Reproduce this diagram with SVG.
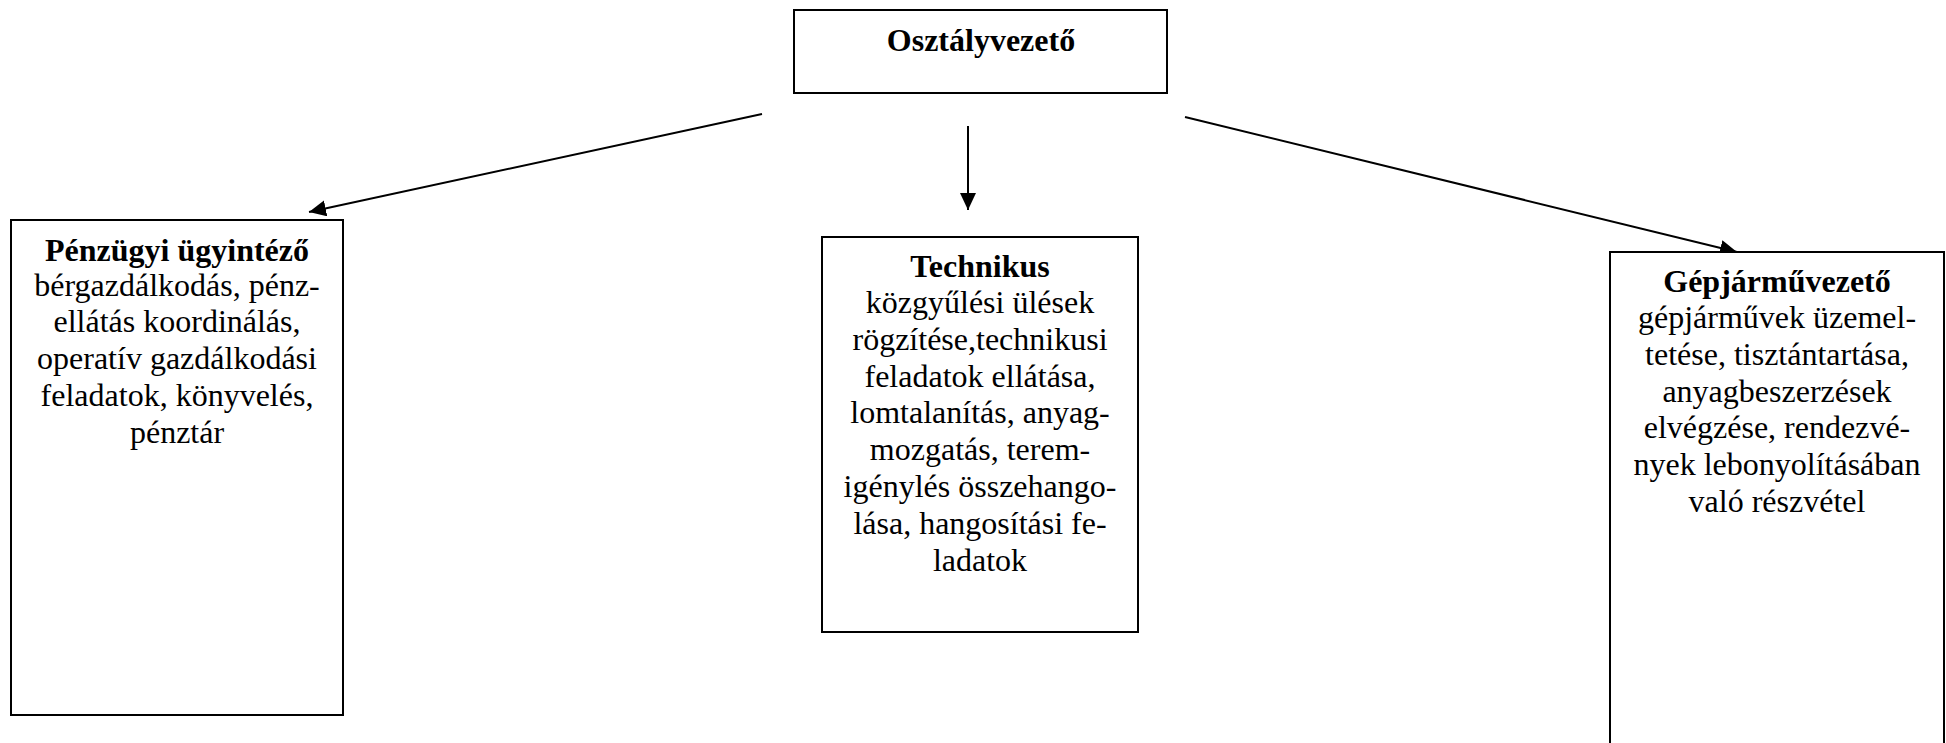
<svg xmlns="http://www.w3.org/2000/svg" width="1946" height="743" viewBox="0 0 1946 743">
<style>
.box{fill:#fff;stroke:#000;stroke-width:2}
.t{font-family:"Liberation Serif","Times New Roman",serif;font-size:32px;fill:#000;text-anchor:middle}
.b{font-weight:bold}
.c{stroke:#000;stroke-width:2;fill:none}
</style>
<defs>
<marker id="ah" markerUnits="userSpaceOnUse" markerWidth="18" markerHeight="18" refX="17" refY="8" orient="auto">
<path d="M0,0 L17,8 L0,16 z" fill="#000"/>
</marker>
</defs>
<rect width="1946" height="743" fill="#fff"/>
<g id="connectors">
<line class="c" x1="762" y1="114" x2="309" y2="212" marker-end="url(#ah)"/>
<line class="c" x1="968" y1="126" x2="968" y2="210" marker-end="url(#ah)"/>
<line class="c" x1="1185" y1="117" x2="1737" y2="252" marker-end="url(#ah)"/>
</g>
<g id="osztalyvezeto">
<rect class="box" x="794" y="10" width="373" height="83"/>
<text class="t b" x="981" y="51">Osztályvezető</text>
</g>
<g id="penzugyi">
<rect class="box" x="11" y="220" width="332" height="495"/>
<text class="t b" x="177" y="261">Pénzügyi ügyintéző</text>
<text class="t" x="177" y="295.5">bérgazdálkodás, pénz-<tspan x="177" dy="36.8">ellátás koordinálás,</tspan><tspan x="177" dy="36.8">operatív gazdálkodási</tspan><tspan x="177" dy="36.8">feladatok, könyvelés,</tspan><tspan x="177" dy="36.8">pénztár</tspan></text>
</g>
<g id="technikus">
<rect class="box" x="822" y="237" width="316" height="395"/>
<text class="t b" x="980" y="277">Technikus</text>
<text class="t" x="980" y="313">közgyűlési ülések<tspan x="980" dy="36.8">rögzítése,technikusi</tspan><tspan x="980" dy="36.8">feladatok ellátása,</tspan><tspan x="980" dy="36.8">lomtalanítás, anyag-</tspan><tspan x="980" dy="36.8">mozgatás, terem-</tspan><tspan x="980" dy="36.8">igénylés összehango-</tspan><tspan x="980" dy="36.8">lása, hangosítási fe-</tspan><tspan x="980" dy="36.8">ladatok</tspan></text>
</g>
<g id="gepjarmuvezeto">
<rect class="box" x="1610" y="252" width="334" height="510"/>
<text class="t b" x="1777" y="292">Gépjárművezető</text>
<text class="t" x="1777" y="328">gépjárművek üzemel-<tspan x="1777" dy="36.8">tetése, tisztántartása,</tspan><tspan x="1777" dy="36.8">anyagbeszerzések</tspan><tspan x="1777" dy="36.8">elvégzése, rendezvé-</tspan><tspan x="1777" dy="36.8">nyek lebonyolításában</tspan><tspan x="1777" dy="36.8">való részvétel</tspan></text>
</g>
</svg>
